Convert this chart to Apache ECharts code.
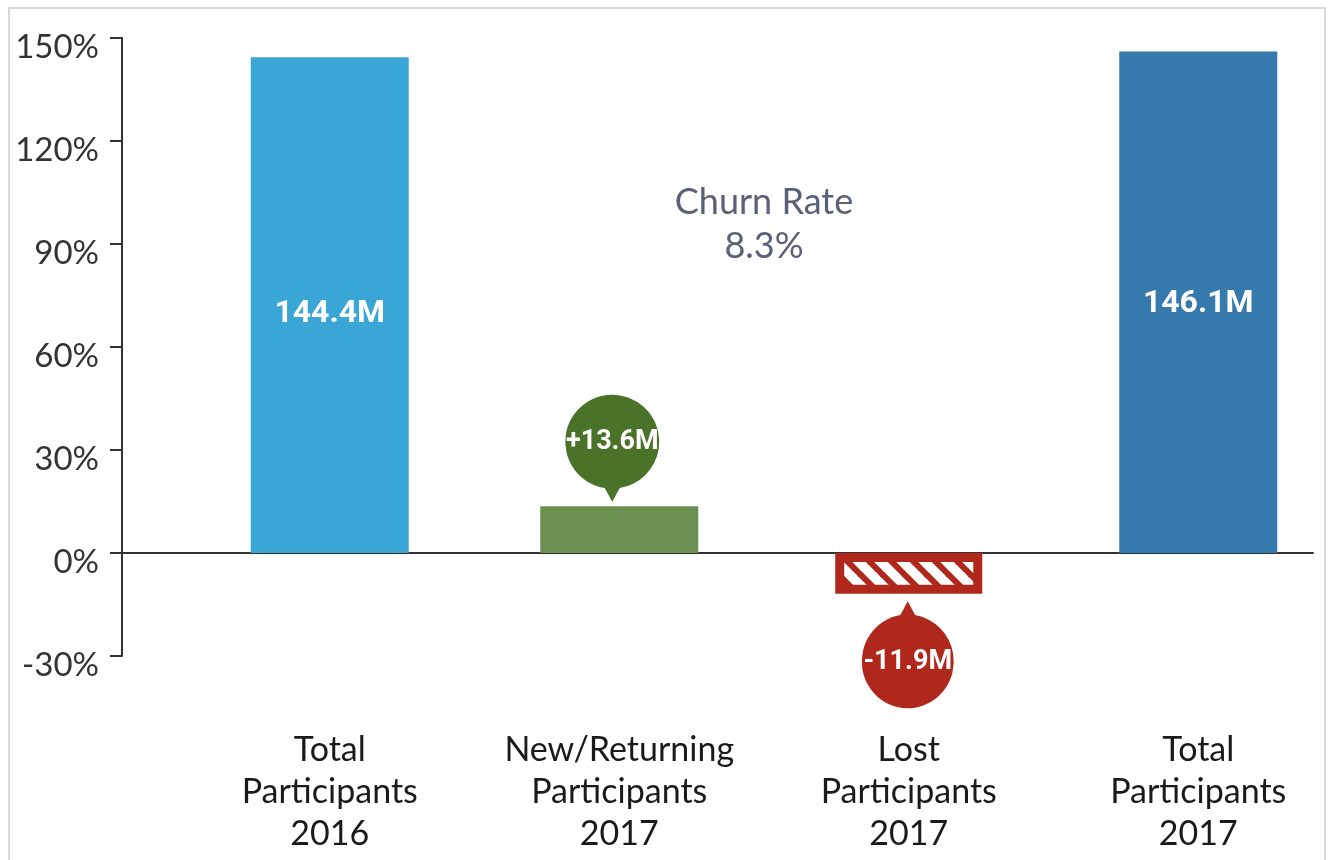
<!DOCTYPE html>
<html lang="en">
<head>
    <meta charset="UTF-8">
    <title>Participant Churn</title>
    <style>
        body { margin: 0; background: #fff; }
        #frame { position: absolute; left: 8px; top: 7px; width: 1314px; height: 880px; border: 2px solid #d9d9d9; }
        #main { position: absolute; left: 0; top: 0; width: 1330px; height: 860px; }
    </style>
</head>
<body>
    <div id="frame"></div>
    <div id="main"></div>

    <script src="https://cdn.jsdelivr.net/npm/echarts@6/dist/echarts.min.js"></script>
    <script type="text/javascript">
        // data
        var categories = ['Total\nParticipants\n2016', 'New/Returning\nParticipants\n2017', 'Lost\nParticipants\n2017', 'Total\nParticipants\n2017']
        var values = [144.4, 13.6, -11.9, 146.1]
        var barColors = ['#3aa6d5', '#6a8f50', '#b0281c', '#3579ad']
        var churnRate = 8.3
        var lostIndex = 2
        var newIndex = 1

        // hatch pattern for the lost bar
        var hatch = document.createElement('canvas')
        hatch.width = 22
        hatch.height = 22
        var ctx = hatch.getContext('2d')
        ctx.fillStyle = '#ffffff'
        ctx.fillRect(0, 0, 22, 22)
        ctx.strokeStyle = '#b0281c'
        ctx.lineWidth = 6
        ;[-22, 0, 22].forEach(function (o) {
            ctx.beginPath()
            ctx.moveTo(o - 2, -2)
            ctx.lineTo(o + 24, 24)
            ctx.stroke()
        })

        var pinDown = 'path://M50,114 L42,99.36 A50,50 0 1,1 58,99.36 Z'
        var pinUp = 'path://M50,0 L42,14.64 A50,50 0 1,0 58,14.64 Z'

        var mainData = values.map(function (v, i) {
            if (i === lostIndex) return '-'
            var isTotal = i !== newIndex
            return {
                value: v,
                itemStyle: { color: barColors[i] },
                label: { show: isTotal, offset: i === 0 ? [0, 9] : [0, 2] }
            }
        })
        var lostData = values.map(function (v, i) { return i === lostIndex ? v : '-' })

        var myChart = echarts.init(document.getElementById('main'))
        var option = {
            animation: false,
            textStyle: { fontFamily: 'Lato' },
            grid: [
                { left: 122, right: 17, top: 38, bottom: 204, outerBoundsMode: 'none' },
                { left: 185, width: 1158, top: 38, bottom: 204, outerBoundsMode: 'none' }
            ],
            xAxis: [
                {
                    type: 'value', gridIndex: 0, min: 0, max: 1,
                    axisLine: { show: true, lineStyle: { color: '#333', width: 2 } },
                    axisTick: { show: false }, axisLabel: { show: false }, splitLine: { show: false }
                },
                {
                    type: 'category', gridIndex: 1, data: categories,
                    axisLine: { show: false, onZero: false }, axisTick: { show: false },
                    axisLabel: { margin: 73, fontSize: 34, lineHeight: 42, color: '#1a1a1a', fontFamily: 'Lato', interval: 0 }
                },
                {
                    type: 'category', gridIndex: 1, data: categories, show: false
                }
            ],
            yAxis: [
                {
                    type: 'value', gridIndex: 0, min: -30, max: 150, interval: 30,
                    axisLine: { show: true, lineStyle: { color: '#333', width: 2 } },
                    axisTick: { show: true, length: 12, lineStyle: { color: '#333', width: 2 } },
                    axisLabel: {
                        formatter: '{value}%', fontSize: 33, color: '#333', margin: 23,
                        verticalAlign: 'top', lineHeight: 18, fontFamily: 'Lato'
                    },
                    splitLine: { show: false }
                },
                { type: 'value', gridIndex: 1, min: -30, max: 150, show: false }
            ],
            graphic: [{
                type: 'text',
                x: 764,
                y: 180,
                style: {
                    text: 'Churn Rate\n' + churnRate + '%',
                    fill: '#5a6078',
                    fontFamily: 'Lato',
                    fontSize: 36,
                    lineHeight: 44,
                    textAlign: 'center',
                    textVerticalAlign: 'top'
                }
            }],
            series: [
                {
                    name: 'Participants',
                    type: 'bar',
                    xAxisIndex: 1,
                    yAxisIndex: 1,
                    barWidth: 158,
                    data: mainData,
                    label: {
                        position: 'inside',
                        color: '#fff',
                        fontFamily: 'Roboto',
                        fontWeight: 'bold',
                        fontSize: 32,
                        formatter: function (p) { return p.value.toFixed(1) + 'M' }
                    },
                    markPoint: {
                        symbol: pinDown,
                        symbolSize: [94, 107],
                        symbolOffset: [-7, -58],
                        itemStyle: { color: '#4a7229' },
                        label: {
                            show: true, color: '#fff', fontFamily: 'Roboto', fontWeight: 'bold', fontSize: 27,
                            offset: [0, -6],
                            formatter: '+' + values[newIndex].toFixed(1) + 'M'
                        },
                        data: [{ coord: [newIndex, values[newIndex]] }]
                    }
                },
                {
                    name: 'Lost',
                    type: 'bar',
                    xAxisIndex: 2,
                    yAxisIndex: 1,
                    barWidth: 147,
                    data: lostData,
                    itemStyle: {
                        color: { image: hatch, repeat: 'repeat' },
                        borderColor: barColors[lostIndex],
                        borderWidth: 9
                    },
                    markPoint: {
                        symbol: pinUp,
                        symbolSize: [92, 107],
                        symbolOffset: [-1, 61],
                        itemStyle: { color: '#b0281c' },
                        label: {
                            show: true, color: '#fff', fontFamily: 'Roboto', fontWeight: 'bold', fontSize: 27,
                            offset: [0, 7],
                            formatter: values[lostIndex].toFixed(1) + 'M'
                        },
                        data: [{ coord: [lostIndex, values[lostIndex]] }]
                    }
                }
            ]
        }
        myChart.setOption(option)
    </script>
</body>
</html>
